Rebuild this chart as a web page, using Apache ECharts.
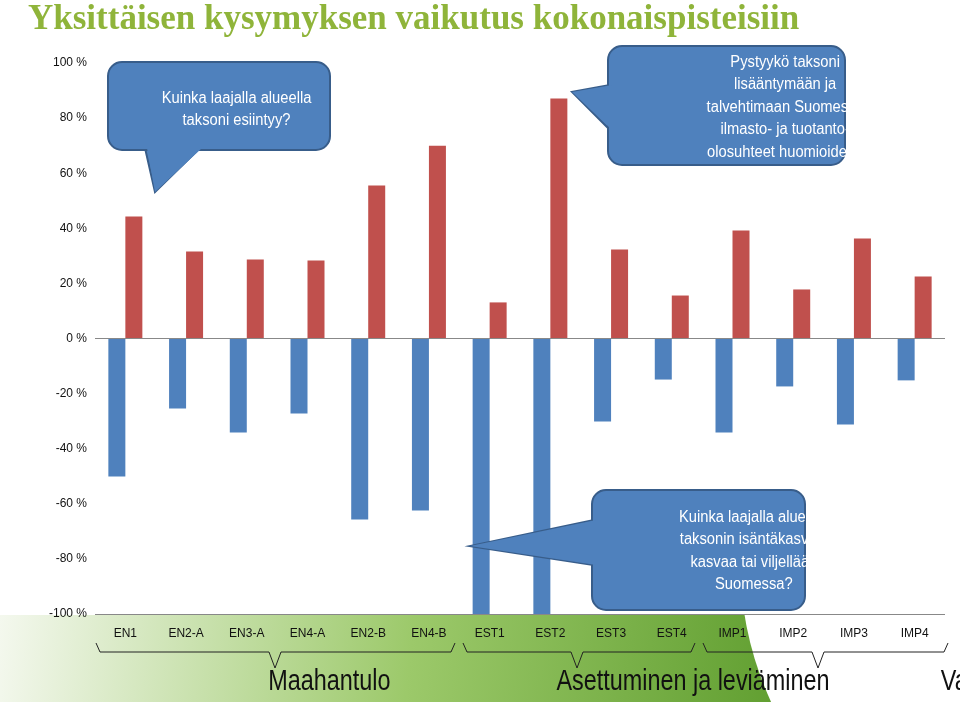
<!DOCTYPE html><html><head><meta charset="utf-8">
<script src="https://cdn.jsdelivr.net/npm/echarts@6/dist/echarts.min.js"></script>
<style>html,body{margin:0;background:#fff}#c{width:960px;height:702px}</style></head><body><div id="c"></div>
<script>
const categories=['EN1','EN2-A','EN3-A','EN4-A','EN2-B','EN4-B','EST1','EST2','EST3','EST4','IMP1','IMP2','IMP3','IMP4'];
const negValues=[-50.1,-25.4,-34.1,-27.2,-65.7,-62.4,-100,-100,-30.1,-14.9,-34.1,-17.4,-31.2,-15.2];
const posValues=[44.3,31.6,28.7,28.3,55.5,70,13.1,87.1,32.3,15.6,39.2,17.8,36.3,22.5];
const chart=echarts.init(document.getElementById('c'));
function brace(x1,x2,mid){return {type:'polyline',shape:{points:[[x1,643],[x1+4,652],[mid-6,652],[mid,668],[mid+6,652],[x2-4,652],[x2,643]]},style:{stroke:'#222',fill:null,lineWidth:1},z:10};}
function callout(x,y,w,h,tail,lines,cx,ly){
  return [
   {type:'polygon',shape:{points:tail},style:{fill:'#4F81BD',stroke:'#385D8A',lineWidth:2},z:20},
   {type:'rect',shape:{x:x,y:y,width:w,height:h,r:14},style:{fill:'#4F81BD',stroke:'#385D8A',lineWidth:2},z:21},
   {type:'polygon',shape:{points:tail.map((p,i)=>i==1?p:[p[0]+2,p[1]])},style:{fill:'#4F81BD'},z:22},
   {type:'text',x:cx,y:ly,scaleX:0.92,originX:cx,style:{text:lines.join('\n'),fill:'#fff',font:'16px "Liberation Sans", sans-serif',align:'center',verticalAlign:'top',lineHeight:22.5},z:23}
  ];
}
function bigText(t,x){return {type:'text',x:x,y:682,scaleX:0.78,originX:x,style:{text:t,fill:'#111',font:'30px "Liberation Sans",sans-serif',align:'center',verticalAlign:'middle'},z:10};}
chart.setOption({
 animation:false,
 grid:{left:95,right:15,top:63,bottom:88},
 xAxis:{type:'category',data:categories,axisLine:{show:false},axisTick:{show:false},
  axisLabel:{margin:14,fontSize:12,color:'#111',fontFamily:'"Liberation Sans",sans-serif'}},
 yAxis:{type:'value',min:-100,max:100,interval:20,splitLine:{show:false},
  axisLine:{show:false},axisTick:{show:false},
  axisLabel:{formatter:v=>v+' %',color:'#111',fontSize:12,fontFamily:'"Liberation Sans",sans-serif'}},
 series:[
  {type:'bar',data:negValues,barWidth:17,barGap:'0%',itemStyle:{color:'#4F81BD'},
   markLine:{silent:true,symbol:'none',label:{show:false},lineStyle:{color:'#888',type:'solid',width:1},data:[{yAxis:0},{yAxis:-100}]}},
  {type:'bar',data:posValues,barWidth:17,itemStyle:{color:'#C0504D'}}
 ],
 graphic:[
  {type:'rect',shape:{x:0,y:615,width:820,height:87},style:{fill:new echarts.graphic.LinearGradient(0,0,1,1,[{offset:0,color:'#f4f8ee'},{offset:0.5,color:'#9cc96a'},{offset:1,color:'#5a9a2a'}])},z:-10},
  {type:'circle',shape:{cx:1080,cy:560,r:340},style:{fill:'#fff'},z:-9},
  {type:'text',x:28,y:2,style:{text:'Yksittäisen kysymyksen vaikutus kokonaispisteisiin',fill:'#8fb43a',font:'bold 35px "Liberation Serif", serif'},z:5},
  brace(96,455,275),brace(463,695,577),brace(703,948,818),
  bigText('Maahantulo',270),bigText('Asettuminen ja leviäminen',568),bigText('Vaikutukset',820),
  ...callout(108,62,222,88,[[145,148],[155,192],[200,148]],['Kuinka laajalla alueella','taksoni esiintyy?'],219,87),
  ...callout(608,46,237,119,[[610,85],[572,92],[610,130]],['Pystyykö taksoni','lisääntymään ja','talvehtimaan Suomessa','ilmasto- ja tuotanto-','olosuhteet huomioiden?'],727,51),
  ...callout(592,490,213,120,[[594,520],[470,546],[594,565]],['Kuinka laajalla alueella','taksonin isäntäkasveja','kasvaa tai viljellään','Suomessa?'],698,506)
 ]
});
</script></body></html>
